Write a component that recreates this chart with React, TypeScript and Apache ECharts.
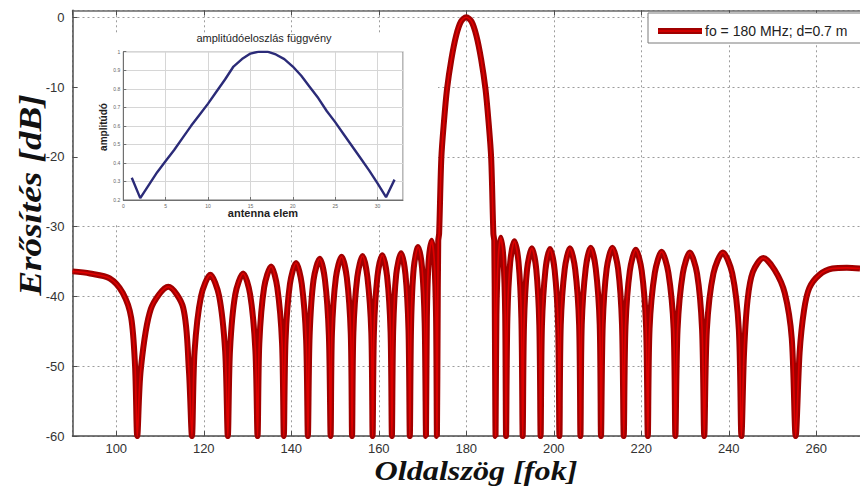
import React, { useEffect, useRef } from 'react';
import * as echarts from 'echarts';

// ---- Main pattern: [angle (deg), gain (dB)] ----
const leftSide: [number, number][] = [
  [90, -36.4], [94, -36.7], [98.5, -37.4], [101.5, -39.5], [103.4, -43.0], [104.3, -50.0], [104.8, -60],
  [105.6, -50.5], [107.9, -41.8], [111.9, -38.6], [115.3, -41.6], [116.6, -50.5], [117.3, -60],
  [117.9, -47.9], [119.4, -39.9], [121.5, -36.9], [123.5, -39.9], [124.9, -47.9], [125.5, -60],
  [126.0, -47.7], [127.2, -39.7], [129.0, -36.7], [130.6, -39.7], [131.8, -47.7], [132.3, -60],
  [132.7, -46.7], [133.8, -38.7], [135.4, -35.7], [136.8, -38.7], [137.9, -46.7], [138.3, -60],
  [138.7, -46.2], [139.7, -38.2], [141.1, -35.2], [142.4, -38.2], [143.4, -46.2], [143.8, -60],
  [144.2, -45.6], [145.1, -37.6], [146.5, -34.6], [147.7, -37.6], [148.6, -45.6], [149.0, -60],
  [149.3, -45.3], [150.2, -37.3], [151.5, -34.3], [152.7, -37.3], [153.6, -45.3], [153.9, -60],
  [154.2, -45.2], [155.1, -37.2], [156.3, -34.2], [157.4, -37.2], [158.3, -45.2], [158.6, -60],
  [158.9, -45.1], [159.7, -37.1], [160.8, -34.1], [161.9, -37.1], [162.7, -45.1], [163.0, -60],
  [163.3, -44.8], [164.0, -36.8], [165.1, -33.8], [166.1, -36.8], [166.8, -44.8], [167.1, -60],
  [167.4, -43.9], [168.0, -35.9], [169.0, -32.9], [169.9, -35.9], [170.5, -43.9], [170.8, -60],
  [171.0, -43.0], [171.4, -35.0], [172.1, -32.0], [172.7, -35.0], [173.1, -43.0], [173.3, -60],
];

const mainLobe: [number, number][] = [
  [173.45, -45.0], [173.6, -32.0], [173.8, -31.0], [174.3, -20.2], [174.9, -15.0], [175.6, -10.3],
  [176.6, -6.0], [177.7, -2.6], [178.8, -0.6], [180, 0], [181.2, -0.6], [182.3, -2.6], [183.4, -6.0],
  [184.4, -10.3], [185.1, -15.0], [185.7, -20.2], [186.2, -31.0], [186.4, -32.0], [186.55, -45.0], [186.7, -60],
];

const rightSide: [number, number][] = [
  [186.9, -42.6], [187.3, -34.6], [187.9, -31.6], [188.5, -34.6], [188.9, -42.6], [189.1, -60],
  [189.4, -43.1], [190.05, -35.1], [191.0, -32.1], [191.95, -35.1], [192.6, -43.1], [192.9, -60],
  [193.2, -44.1], [193.9, -36.1], [195.0, -33.1], [196.0, -36.1], [196.7, -44.1], [197.0, -60],
  [197.3, -44.2], [198.1, -36.2], [199.15, -33.2], [200.2, -36.2], [201.0, -44.2], [201.3, -60],
  [201.6, -44.1], [202.5, -36.1], [203.7, -33.1], [204.9, -36.1], [205.8, -44.1], [206.1, -60],
  [206.4, -44.0], [207.3, -36.0], [208.45, -33.0], [209.6, -36.0], [210.5, -44.0], [210.8, -60],
  [211.2, -44.0], [212.1, -36.0], [213.4, -33.0], [214.7, -36.0], [215.6, -44.0], [216.0, -60],
  [216.4, -44.3], [217.4, -36.3], [218.75, -33.3], [220.1, -36.3], [221.1, -44.3], [221.5, -60],
  [221.9, -44.6], [223.1, -36.6], [224.65, -33.6], [226.2, -36.6], [227.4, -44.6], [227.8, -60],
  [228.3, -44.7], [229.5, -36.7], [231.1, -33.7], [232.75, -36.7], [233.9, -44.7], [234.4, -60],
  [235.0, -44.7], [236.5, -36.7], [238.65, -33.7], [240.8, -36.7], [242.3, -44.7], [242.9, -60],
  [243.5, -48.0], [244.3, -40.5], [245.5, -36.5], [247.9, -34.5], [250.5, -36.2], [252.8, -39.5], [254.4, -46.0], [255.3, -60],
  [256.2, -48.0], [257.2, -42.0], [258.4, -38.8], [260.7, -36.9], [263.7, -36.0], [267.0, -35.9], [270, -36.0],
];

// ---- Inset: amplitude distribution over antenna elements ----
const antennaElements = [
  1, 2, 3, 4, 5, 6, 7, 8, 9, 10, 11, 12, 13, 14, 15, 16,
  17, 18, 19, 20, 21, 22, 23, 24, 25, 26, 27, 28, 29, 30, 31, 32,
];
const amplitudes = [
  0.32, 0.21, 0.28, 0.35, 0.41, 0.47, 0.535, 0.6, 0.66, 0.72, 0.785, 0.85, 0.92, 0.96, 0.99, 1.0,
  1.0, 0.985, 0.96, 0.92, 0.87, 0.81, 0.75, 0.68, 0.62, 0.555, 0.49, 0.425, 0.36, 0.29, 0.215, 0.31,
];

// ---- Texts ----
const xTitle = 'Oldalszög [fok]';
const yTitle = 'Erősítés [dB]';
const legendLabel = 'fo = 180 MHz; d=0.7 m';
const insetTitle = 'amplitúdóeloszlás függvény';
const insetXTitle = 'antenna elem';
const insetYTitle = 'amplitúdó';

const sans = "'Liberation Sans', Arial, Helvetica, sans-serif";
const serif = "'Liberation Serif', 'Times New Roman', serif";
const axisGray = '#4d4d4d';
const dotted = { color: '#9c9c9c', type: [2, 3] as number[], width: 1 };

export default function App() {
  const ref = useRef<HTMLDivElement>(null);
  useEffect(() => {
    document.body.style.margin = '0';
    const chart = echarts.init(ref.current!, null, { renderer: 'svg' });
    const curve = [...leftSide, ...mainLobe, ...rightSide];
    const inset = antennaElements.map((n, i) => [n, amplitudes[i]]);
    chart.setOption({
      animation: false,
      backgroundColor: '#ffffff',
      grid: [
        { left: 72.5, top: 10.3, width: 795, height: 425.8 },
        {
          left: 123.3, top: 51.7, width: 279.7, height: 148.3, show: true, z: 3,
          borderColor: '#707070', borderWidth: 1, backgroundColor: '#ffffff',
        },
      ],
      xAxis: [
        {
          gridIndex: 0, type: 'value', min: 90, max: 270, splitNumber: 9,
          axisLine: { onZero: false, lineStyle: { color: axisGray, width: 1.5 } },
          axisTick: { inside: true, length: 5, lineStyle: { color: axisGray } },
          axisLabel: { showMinLabel: false, showMaxLabel: false, color: '#333', fontSize: 13, margin: 6, fontFamily: sans },
          splitLine: { show: true, lineStyle: dotted },
        },
        {
          gridIndex: 0, type: 'value', position: 'top', min: 90, max: 270, splitNumber: 9,
          axisLine: { onZero: false, lineStyle: { color: '#6a6a6a', width: 1.5 } },
          axisTick: { inside: true, length: 5, lineStyle: { color: axisGray } },
          axisLabel: { show: false },
          splitLine: { show: false },
        },
        {
          gridIndex: 1, type: 'value', min: 0, max: 33, interval: 5, z: 3,
          axisLine: { onZero: false, lineStyle: { color: '#707070', width: 1 } },
          axisTick: { inside: true, length: 3, lineStyle: { color: '#707070' } },
          axisLabel: { color: '#666', fontSize: 5, margin: 3, fontFamily: sans, showMaxLabel: false },
          splitLine: { show: true, lineStyle: { color: '#d6d6d6', width: 1 } },
        },
      ],
      yAxis: [
        {
          gridIndex: 0, type: 'value', min: -60, max: 1, interval: 10,
          axisLine: { show: true, onZero: false, lineStyle: { color: axisGray, width: 1.5 } },
          axisTick: { show: true, inside: true, length: 5, lineStyle: { color: axisGray } },
          axisLabel: { showMaxLabel: false, color: '#333', fontSize: 13, margin: 8, fontFamily: sans },
          splitLine: { show: true, lineStyle: dotted },
        },
        {
          gridIndex: 1, type: 'value', min: 0.2, max: 1, interval: 0.1, z: 3,
          axisLine: { show: true, onZero: false, lineStyle: { color: '#707070', width: 1 } },
          axisTick: { show: true, inside: true, length: 3, lineStyle: { color: '#707070' } },
          axisLabel: {
            color: '#666', fontSize: 5, margin: 3, fontFamily: sans,
            formatter: (v: number) => (Math.abs(v - 1) < 1e-6 ? '1' : v.toFixed(1)),
          },
          splitLine: { show: true, lineStyle: { color: '#d6d6d6', width: 1 } },
        },
      ],
      series: [
        {
          type: 'line', xAxisIndex: 0, yAxisIndex: 0, data: curve, showSymbol: false, smooth: 0.3,
          clip: true, silent: true, z: 2, lineStyle: { color: '#a00000', width: 6 },
        },
        {
          type: 'line', xAxisIndex: 0, yAxisIndex: 0, data: curve, showSymbol: false, smooth: 0.3,
          clip: true, silent: true, z: 2, lineStyle: { color: '#e00000', width: 1.6 },
        },
        {
          type: 'line', xAxisIndex: 2, yAxisIndex: 1, data: inset, showSymbol: false,
          silent: true, z: 4, lineStyle: { color: '#2b2b78', width: 2.4 },
        },
      ],
      graphic: [
        { type: 'rect', z: 1, silent: true, shape: { x: 78, y: 33, width: 360, height: 190 }, style: { fill: '#ffffff' } },
        {
          type: 'text', z: 5, x: 264, y: 38, silent: true,
          style: { text: insetTitle, fontSize: 11, fontFamily: sans, fill: '#1e1e1e', align: 'center', verticalAlign: 'middle' },
        },
        {
          type: 'text', z: 5, x: 263, y: 213, silent: true,
          style: { text: insetXTitle, fontSize: 11, fontWeight: 'bold', fontFamily: sans, fill: '#1e1e1e', align: 'center', verticalAlign: 'middle' },
        },
        {
          type: 'text', z: 5, x: 103, y: 127, rotation: Math.PI / 2, silent: true,
          style: { text: insetYTitle, fontSize: 10, fontWeight: 'bold', fontFamily: sans, fill: '#1e1e1e', align: 'center', verticalAlign: 'middle' },
        },
        // legend box
        {
          type: 'rect', z: 10, silent: true, shape: { x: 648, y: 13, width: 230, height: 30 },
          style: { fill: '#ffffff', stroke: '#7a7a7a', lineWidth: 1 },
        },
        { type: 'line', z: 11, silent: true, shape: { x1: 658, y1: 31, x2: 702, y2: 31 }, style: { stroke: '#a00000', lineWidth: 6 } },
        { type: 'line', z: 12, silent: true, shape: { x1: 658, y1: 31, x2: 702, y2: 31 }, style: { stroke: '#e00000', lineWidth: 1.6 } },
        {
          type: 'text', z: 12, x: 705, y: 31, silent: true,
          style: { text: legendLabel, fontSize: 14, fontFamily: sans, fill: '#222', align: 'left', verticalAlign: 'middle' },
        },
        // axis titles
        {
          type: 'text', z: 5, x: 476, y: 471, scaleX: 1.15, silent: true,
          style: { text: xTitle, fontSize: 28, fontStyle: 'italic', fontWeight: 'bold', fontFamily: serif, fill: '#111', align: 'center', verticalAlign: 'middle' },
        },
        {
          type: 'text', z: 5, x: 30, y: 195, rotation: Math.PI / 2, scaleX: 1.2, silent: true,
          style: { text: yTitle, fontSize: 31, fontStyle: 'italic', fontWeight: 'bold', fontFamily: serif, fill: '#111', align: 'center', verticalAlign: 'middle' },
        },
      ],
    });
    return () => chart.dispose();
  }, []);
  return (
    <div
      ref={ref}
      style={{ position: 'absolute', left: 0, top: 0, width: 860, height: 488, background: '#fff' }}
    />
  );
}
